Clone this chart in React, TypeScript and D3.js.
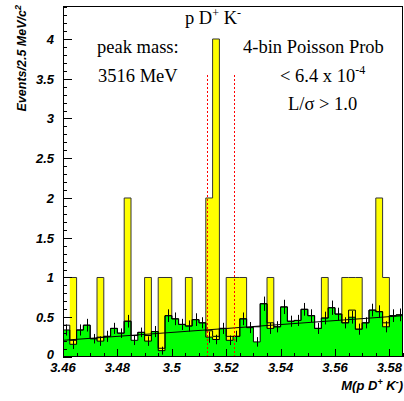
import React from 'react';
import * as d3 from 'd3';

const W = 404;
const H = 401;

// histogram binning (2.5 MeV bins)
const binLow = 3.46;
const binWidth = 0.0025;

// data counts (yellow)
const signalCounts = [
  1, 1, 0, 0, 0, 1, 0, 0, 0, 2,
  0, 0, 1, 0, 1, 1, 0, 0, 1, 0,
  0, 2, 4, 0, 1, 1, 1, 0, 0, 0,
  1, 0, 0, 0, 0, 0, 0, 0, 1, 0,
  0, 1, 1, 1, 0, 0, 2, 1, 0, 0,
];

// background (green fill)
const bgFill = [
  0.34, 0.16, 0.34, 0.40, 0.23, 0.20, 0.26, 0.36, 0.30, 0.45,
  0.21, 0.31, 0.20, 0.32, 0.08, 0.52, 0.48, 0.41, 0.39, 0.47,
  0.43, 0.25, 0.22, 0.36, 0.21, 0.26, 0.48, 0.37, 0.19, 0.67,
  0.36, 0.38, 0.63, 0.45, 0.46, 0.60, 0.52, 0.36, 0.49, 0.62,
  0.54, 0.43, 0.50, 0.35, 0.43, 0.59, 0.57, 0.38, 0.52, 0.53,
];

// background outline histogram
const bgLine = [
  0.40, 0.21, 0.34, 0.40, 0.23, 0.25, 0.26, 0.36, 0.30, 0.45,
  0.27, 0.31, 0.27, 0.32, 0.11, 0.52, 0.48, 0.41, 0.39, 0.47,
  0.43, 0.33, 0.26, 0.36, 0.26, 0.26, 0.48, 0.37, 0.38, 0.67,
  0.43, 0.38, 0.63, 0.45, 0.46, 0.60, 0.52, 0.36, 0.49, 0.62,
  0.54, 0.43, 0.59, 0.35, 0.43, 0.59, 0.57, 0.43, 0.52, 0.53,
];

// background errors
const bgErr = [
  0.07, 0.06, 0.07, 0.08, 0.06, 0.06, 0.07, 0.07, 0.06, 0.08,
  0.06, 0.06, 0.06, 0.07, 0.05, 0.08, 0.08, 0.07, 0.07, 0.08,
  0.07, 0.07, 0.06, 0.07, 0.06, 0.07, 0.08, 0.07, 0.06, 0.09,
  0.07, 0.07, 0.09, 0.07, 0.07, 0.08, 0.08, 0.07, 0.08, 0.09,
  0.08, 0.07, 0.08, 0.07, 0.07, 0.08, 0.08, 0.07, 0.08, 0.08,
];

// linear fit
const fitX = [3.46, 3.585];
const fitY = [0.21, 0.52];

// signal window
const windowEdges = [3.513, 3.5228];
const windowTop = 3.55;

const xTicksMajor = [3.46, 3.48, 3.5, 3.52, 3.54, 3.56, 3.58];
const xTickLabels = ['3.46', '3.48', '3.5', '3.52', '3.54', '3.56', '3.58'];
const yTicksMajor = [0, 0.5, 1, 1.5, 2, 2.5, 3, 3.5, 4];
const yTickLabels = ['0', '0.5', '1', '1.5', '2', '2.5', '3', '3.5', '4'];

const xDomain = [3.46, 3.585];
const yDomain = [0, 4.415];

const serif = '"Liberation Serif", "Times New Roman", serif';
const sans = '"Liberation Sans", Arial, Helvetica, sans-serif';

function stepPoints(vals: number[], from = 0): [number, number][] {
  const pts: [number, number][] = [];
  for (let i = from; i < vals.length; i++) {
    const a = binLow + i * binWidth;
    pts.push([a, vals[i]]);
    pts.push([a + binWidth, vals[i]]);
  }
  return pts;
}

export default function App() {
  const L = 63, R = 403, T = 6, B = 357;
  const x = d3.scaleLinear().domain(xDomain).range([L, R]);
  const y = d3.scaleLinear().domain(yDomain).range([B, T]);

  const area = d3
    .area<[number, number]>()
    .x((d) => x(d[0]))
    .y0(y(0))
    .y1((d) => y(d[1]));
  const line = d3
    .line<[number, number]>()
    .x((d) => x(d[0]))
    .y((d) => y(d[1]));

  const sigPts = stepPoints(signalCounts, 1);
  const sigOutline: [number, number][] = [
    [binLow, 0],
    ...stepPoints(signalCounts, 0),
    [binLow + signalCounts.length * binWidth, 0],
  ];
  const bgPts = stepPoints(bgFill, 0);
  const bgLinePts = stepPoints(bgLine, 0);

  const xMinor = d3.range(0, 26).map((i) => 3.46 + i * 0.005);
  const yMinor = d3.range(0, 45).map((i) => i * 0.1);

  return (
    <svg
      width={W}
      height={H}
      style={{ position: 'absolute', left: 0, top: 0, background: '#fff' }}
    >
      <rect x={0} y={0} width={W} height={H} fill="#fff" />
      <defs>
        <clipPath id="plot">
          <rect x={L} y={T} width={R - L} height={B - T} />
        </clipPath>
      </defs>
      <g clipPath="url(#plot)">
        <path d={area(sigPts) || ''} fill="#ffff00" />
        <path d={line(sigOutline) || ''} fill="none" stroke="#333" strokeWidth={1} />
        <path d={area(bgPts) || ''} fill="#00ff00" />
        <path d={line(bgPts) || ''} fill="none" stroke="#000" strokeWidth={1} />
        <path d={line(bgLinePts) || ''} fill="none" stroke="#000" strokeWidth={1} />
        {bgFill.map((v, i) => {
          const cx = Math.round(x(binLow + (i + 0.5) * binWidth)) + 0.5;
          return (
            <line
              key={i}
              x1={cx}
              x2={cx}
              y1={y(v - bgErr[i])}
              y2={y(v + bgErr[i])}
              stroke="#000"
              strokeWidth={1}
            />
          );
        })}
        <line
          x1={x(fitX[0])}
          x2={x(fitX[1])}
          y1={y(fitY[0])}
          y2={y(fitY[1])}
          stroke="#000"
          strokeWidth={1}
        />
        {windowEdges.map((e, i) => (
          <line
            key={i}
            x1={Math.round(x(e)) + 0.5}
            x2={Math.round(x(e)) + 0.5}
            y1={Math.round(y(windowTop))}
            y2={y(0)}
            stroke="#ff0000"
            strokeWidth={1}
            strokeDasharray="2,2"
            shapeRendering="crispEdges"
          />
        ))}
      </g>

      {/* frame */}
      <rect x={L + 0.5} y={T + 0.5} width={R - L - 1} height={B - T - 1} fill="none" stroke="#000" strokeWidth={1} />

      {/* y ticks */}
      {yMinor.map((v, i) => (
        <line key={'ym' + i} x1={L} x2={L + 4} y1={Math.round(y(v)) + 0.5} y2={Math.round(y(v)) + 0.5} stroke="#000" />
      ))}
      {yTicksMajor.map((v, i) => (
        <line key={'yM' + i} x1={L} x2={L + 9} y1={Math.round(y(v)) + 0.5} y2={Math.round(y(v)) + 0.5} stroke="#000" />
      ))}
      {yTicksMajor.map((v, i) => (
        <text
          key={'yl' + i}
          x={54}
          y={y(v) + (i === 0 ? 2 : 5)}
          textAnchor="end"
          fontFamily={sans}
          fontWeight="bold"
          fontStyle="italic"
          fontSize={13}
        >
          {yTickLabels[i]}
        </text>
      ))}

      {/* x ticks */}
      {xMinor.map((v, i) => (
        <line key={'xm' + i} x1={Math.round(x(v)) + 0.5} x2={Math.round(x(v)) + 0.5} y1={B} y2={B - 4} stroke="#000" />
      ))}
      {xTicksMajor.map((v, i) => (
        <line key={'xM' + i} x1={Math.round(x(v)) + 0.5} x2={Math.round(x(v)) + 0.5} y1={B} y2={B - 8} stroke="#000" />
      ))}
      {xTicksMajor.map((v, i) => (
        <text
          key={'xl' + i}
          x={x(v)}
          y={372}
          textAnchor="middle"
          fontFamily={sans}
          fontWeight="bold"
          fontStyle="italic"
          fontSize={13}
        >
          {xTickLabels[i]}
        </text>
      ))}

      {/* axis titles */}
      <text
        x={403}
        y={390}
        textAnchor="end"
        fontFamily={sans}
        fontWeight="bold"
        fontStyle="italic"
        fontSize={13}
      >
        M(p D<tspan dy={-5} fontSize={9}>+</tspan>
        <tspan dy={5}> K</tspan>
        <tspan dy={-5} fontSize={9}>-</tspan>
        <tspan dy={5}>)</tspan>
      </text>
      <text
        transform="translate(26,5) rotate(-90)"
        textAnchor="end"
        fontFamily={sans}
        fontWeight="bold"
        fontStyle="italic"
        fontSize={12.5}
      >
        Events/2.5 MeV/c<tspan dy={-5} fontSize={9}>2</tspan>
      </text>

      {/* annotations */}
      <text x={213} y={24} textAnchor="middle" fontFamily={serif} fontSize={18.5}>
        p D<tspan dy={-7} fontSize={12}>+</tspan>
        <tspan dy={7}> K</tspan>
        <tspan dy={-7} fontSize={12}>-</tspan>
      </text>
      <text x={97} y={53} fontFamily={serif} fontSize={18.5}>peak mass:</text>
      <text x={98} y={82} fontFamily={serif} fontSize={18.5}>3516 MeV</text>
      <text x={243} y={53} fontFamily={serif} fontSize={18.5}>4-bin Poisson Prob</text>
      <text x={280} y={82} fontFamily={serif} fontSize={18.5}>
        {'< 6.4 x 10'}
        <tspan dy={-8} fontSize={12}>-4</tspan>
      </text>
      <text x={288} y={110} fontFamily={serif} fontSize={18.5}>L/σ &gt; 1.0</text>
    </svg>
  );
}
